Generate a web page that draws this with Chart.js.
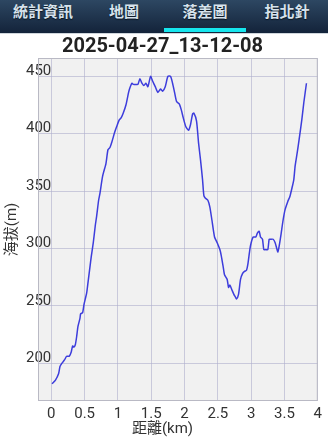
<!DOCTYPE html>
<html>
<head>
<meta charset="utf-8">
<script src="https://cdn.jsdelivr.net/npm/chart.js@4/dist/chart.umd.min.js"></script>
<style>
    html, body {margin: 0; padding: 0; background: #fff; width: 328px; height: 440px; overflow: hidden;}
    .tabs {position: relative; height: 34px; background: linear-gradient(#2d4762, #13233a); border-bottom: 1px solid #cfd6dc; box-sizing: border-box;}
    .tab {position: absolute; top: 0; width: 82px; height: 30px; line-height: 30px; text-align: center;
          font: bold 15px "Noto Sans CJK TC", sans-serif; color: #d6e2ec; text-shadow: 0 1px 1px #0a1420;}
    .tab.active:after {content: ""; position: absolute; left: 0; right: 0; top: 28px; height: 4px; background: #16e6ee;}
    #wrap {position: absolute; left: 0; top: 34px; width: 328px; height: 406px;}
</style>
</head>
<body>
<div class="tabs">
    <div class="tab" style="left:2px">統計資訊</div>
    <div class="tab" style="left:83px">地圖</div>
    <div class="tab active" style="left:164px">落差圖</div>
    <div class="tab" style="left:246px">指北針</div>
</div>
<div id="wrap"><canvas id="elevChart" width="328" height="406"></canvas></div>
<script>
// Dữ liệu: khoảng cách (km) và độ cao (m)
var distanceKm = [0.01, 0.06, 0.11, 0.13, 0.16, 0.20, 0.23, 0.27, 0.30, 0.32, 0.34, 0.36, 0.38, 0.40, 0.43, 0.44, 0.47, 0.49,
    0.53, 0.55, 0.58, 0.60, 0.63, 0.66, 0.68, 0.71, 0.73, 0.77, 0.82, 0.85, 0.88, 0.91, 0.95, 0.98, 1.02, 1.05, 1.08, 1.12,
    1.16, 1.18, 1.21, 1.23, 1.27, 1.30, 1.33, 1.36, 1.39, 1.42, 1.45, 1.49, 1.52, 1.56, 1.60, 1.64, 1.67, 1.71, 1.75, 1.79,
    1.82, 1.85, 1.88, 1.92, 1.95, 1.98, 2.02, 2.06, 2.09, 2.12, 2.14, 2.18, 2.21, 2.24, 2.27, 2.29, 2.31, 2.35, 2.38, 2.41,
    2.45, 2.49, 2.53, 2.55, 2.58, 2.60, 2.64, 2.66, 2.68, 2.71, 2.74, 2.76, 2.78, 2.81, 2.84, 2.87, 2.90, 2.93, 2.95, 2.98,
    3.00, 3.03, 3.07, 3.09, 3.12, 3.14, 3.17, 3.19, 3.22, 3.25, 3.27, 3.29, 3.33, 3.36, 3.40, 3.42, 3.45, 3.48, 3.51, 3.55,
    3.58, 3.61, 3.64, 3.66, 3.69, 3.72, 3.76, 3.79, 3.83];
var elevationM = [182, 185, 191, 197, 200, 203, 206, 206, 210, 215, 214, 216, 223, 232, 239, 243, 244, 251,
    261, 270, 284, 293, 305, 320, 328, 342, 348, 363, 374, 386, 388, 393, 401, 406, 412, 414, 418, 425,
    436, 440, 444, 443, 443, 443, 448, 444, 442, 444, 441, 450, 446, 441, 436, 439, 437, 441, 450, 450,
    444, 436, 428, 426, 421, 414, 406, 403, 408, 417, 418, 411, 392, 377, 360, 346, 344, 342, 336, 325,
    310, 305, 299, 294, 284, 277, 273, 266, 268, 264, 260, 258, 256, 260, 273, 278, 280, 281, 286, 299,
    305, 310, 310, 313, 315, 310, 308, 299, 299, 299, 308, 308, 308, 305, 297, 302, 313, 325, 334, 341,
    345, 352, 360, 372, 383, 395, 412, 427, 444];
var xTicks = [0, 0.5, 1, 1.5, 2, 2.5, 3, 3.5, 4];
var yTicks = [200, 250, 300, 350, 400, 450];
var xRange = [-0.2, 4];
var yRange = [167, 466];
var titleText = '2025-04-27_13-12-08';

var points = distanceKm.map(function (d, i) {
    return {x: d, y: elevationM[i]};
});

// Nền xám + viền cho vùng biểu đồ
var plotBg = {
    id: 'plotBg',
    beforeDraw: function (chart) {
        var a = chart.chartArea, ctx = chart.ctx;
        ctx.save();
        ctx.fillStyle = '#f1f1f1';
        ctx.fillRect(a.left, a.top, a.right - a.left, a.bottom - a.top);
        ctx.restore();
    },
    afterDatasetsDraw: function (chart) {
        var a = chart.chartArea, ctx = chart.ctx;
        ctx.save();
        ctx.strokeStyle = '#b9b9c4';
        ctx.lineWidth = 1;
        ctx.strokeRect(a.left + 0.5, a.top + 0.5, a.right - a.left - 1, a.bottom - a.top - 1);
        ctx.restore();
    }
};

var tickFont = {family: 'Roboto', size: 15, lineHeight: 1};

function fixedTicks(list) {
    return function (axis) {
        axis.ticks = list.map(function (v) {
            return {value: v};
        });
    };
}

new Chart(document.getElementById('elevChart'), {
    type: 'scatter',
    data: {
        datasets: [{
                data: points,
                showLine: true,
                borderColor: '#3d3ddc',
                borderWidth: 1.5,
                pointRadius: 0,
                tension: 0.2,
                fill: false
            }]
    },
    plugins: [plotBg],
    options: {
        responsive: false,
        animation: false,
        layout: {autoPadding: false, padding: {top: 2, left: 3, right: 6, bottom: 3}},
        plugins: {
            legend: {display: false},
            tooltip: {enabled: false},
            title: {
                display: true,
                text: titleText,
                color: '#222',
                font: {family: 'Roboto', size: 20, weight: 'bold', lineHeight: 1.1},
                padding: 0
            },
            subtitle: {
                display: true,
                position: 'bottom',
                text: '距離(km)',
                color: '#333',
                font: {family: 'Roboto, "Noto Sans CJK TC"', size: 15, lineHeight: 1},
                padding: 0
            }
        },
        scales: {
            x: {
                type: 'linear',
                min: xRange[0],
                max: xRange[1],
                afterBuildTicks: fixedTicks(xTicks),
                afterFit: function (axis) {
                    axis.height = 21;
                },
                grid: {color: 'rgba(175,175,205,0.6)', drawTicks: false},
                border: {display: false},
                ticks: {
                    padding: 6,
                    color: '#333',
                    font: tickFont,
                    maxRotation: 0,
                    autoSkip: false,
                    callback: function (v) {
                        return String(v);
                    }
                }
            },
            y: {
                min: yRange[0],
                max: yRange[1],
                afterBuildTicks: fixedTicks(yTicks),
                afterFit: function (axis) {
                    axis.width = 35;
                },
                grid: {color: 'rgba(175,175,205,0.6)', drawTicks: false},
                border: {display: false},
                ticks: {
                    mirror: true,
                    crossAlign: 'far',
                    padding: -12,
                    labelOffset: -5,
                    color: '#333',
                    font: tickFont,
                    callback: function (v) {
                        return String(v);
                    }
                },
                title: {
                    display: true,
                    text: '海拔(m)',
                    color: '#333',
                    font: {family: 'Roboto, "Noto Sans CJK TC"', size: 15, lineHeight: 1.2},
                    padding: {top: 0, bottom: 4}
                }
            }
        }
    }
});
</script>
</body>
</html>
